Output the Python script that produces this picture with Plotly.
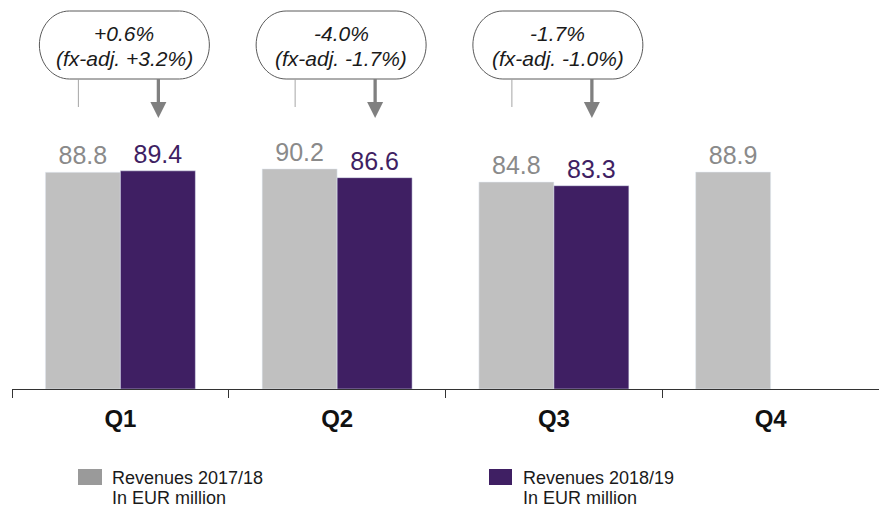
import plotly.graph_objects as go

# ---------------- data ----------------
quarters = ["Q1", "Q2", "Q3", "Q4"]
rev_2017_18 = [88.8, 90.2, 84.8, 88.9]
rev_2018_19 = [89.4, 86.6, 83.3, None]
change_pct = ["+0.6%", "-4.0%", "-1.7%"]
fx_adj_pct = ["+3.2%", "-1.7%", "-1.0%"]
legend_names = ["Revenues 2017/18", "Revenues 2018/19"]
legend_unit = "In EUR million"

# ---------------- layout constants ----------------
W, H = 879, 508
ML, MB = 12, 119
PLOT_W = W - ML
PLOT_H = H - MB
YMAX = 159.4
CAT_PX = PLOT_W / len(quarters)
Y_PX = PLOT_H / YMAX

GRAY = "#c0c0c0"
GRAY_LBL = "#8a8a8a"
GRAY_LEG = "#9a9a9a"
PURPLE = "#3f1f63"
FONT = "Arial, Liberation Sans, sans-serif"


def xd(i, dpx):
    """category index + pixel offset -> x data coordinate"""
    return i + dpx / CAT_PX


def yd(py):
    """pixel from top of figure -> y data coordinate"""
    return (PLOT_H - py) / Y_PX


def px_paper_x(px):
    return (px - ML) / PLOT_W


def px_paper_y(py):
    return (PLOT_H - py) / PLOT_H


fig = go.Figure()
fig.add_bar(
    x=quarters, y=rev_2017_18, name=legend_names[0], marker_color=GRAY,
    text=[f"{v:.1f}" for v in rev_2017_18], textposition="outside",
    textfont=dict(color=GRAY_LBL, size=25, family=FONT),
    cliponaxis=False, constraintext="none", showlegend=False,
)
fig.add_bar(
    x=quarters, y=rev_2018_19, name=legend_names[1], marker_color=PURPLE,
    text=[f"{v:.1f}" if v is not None else "" for v in rev_2018_19],
    textposition="outside",
    textfont=dict(color=PURPLE, size=25, family=FONT),
    cliponaxis=False, constraintext="none", showlegend=False,
)

shapes = []
annotations = []

# ---------------- callouts ----------------
def stadium_path(i, x0, x1, y0, y1, rx, ry):
    k = 0.5523
    pts = [
        ("M", [(x0 + rx, y0)]),
        ("L", [(x1 - rx, y0)]),
        ("C", [(x1 - rx + k * rx, y0), (x1, y0 + ry - k * ry), (x1, y0 + ry)]),
        ("L", [(x1, y1 - ry)]),
        ("C", [(x1, y1 - ry + k * ry), (x1 - rx + k * rx, y1), (x1 - rx, y1)]),
        ("L", [(x0 + rx, y1)]),
        ("C", [(x0 + rx - k * rx, y1), (x0, y1 - ry + k * ry), (x0, y1 - ry)]),
        ("L", [(x0, y0 + ry)]),
        ("C", [(x0, y0 + ry - k * ry), (x0 + rx - k * rx, y0), (x0 + rx, y0)]),
    ]
    s = ""
    for cmd, ps in pts:
        s += cmd + " ".join(f"{xd(i, px):.5f},{yd(py):.4f}" for px, py in ps) + " "
    return s + "Z"


for i, (chg, fx) in enumerate(zip(change_pct, fx_adj_pct)):
    # rounded box
    shapes.append(dict(
        type="path", xref="x", yref="y",
        path=stadium_path(i, -81, 89, 11, 79, 30, 34),
        line=dict(color="#5a5a5a", width=1), fillcolor="white", layer="above",
    ))
    # thin leader line above previous-year bar
    shapes.append(dict(
        type="line", xref="x", yref="y",
        x0=xd(i, -42), x1=xd(i, -42), y0=yd(79), y1=yd(107),
        line=dict(color="#a6a6a6", width=1),
    ))
    # arrow stem above current-year bar
    shapes.append(dict(
        type="line", xref="x", yref="y",
        x0=xd(i, 38), x1=xd(i, 38), y0=yd(79), y1=yd(103),
        line=dict(color="#808080", width=3.3),
    ))
    # arrow head
    shapes.append(dict(
        type="path", xref="x", yref="y",
        path=(f"M{xd(i, 30):.5f},{yd(102):.4f} L{xd(i, 46):.5f},{yd(102):.4f} "
              f"L{xd(i, 38):.5f},{yd(118):.4f} Z"),
        line=dict(color="#808080", width=0), fillcolor="#808080",
    ))
    for txt, py in ((chg, 33), (f"(fx-adj. {fx})", 58)):
        annotations.append(dict(
            x=quarters[i], xref="x", xshift=4, y=yd(py), yref="y",
            yanchor="middle", xanchor="center", showarrow=False,
            text=f"<i>{txt}</i>",
            font=dict(size=21, color="#1a1a1a", family=FONT),
        ))

# ---------------- legend (manual) ----------------
legend_items = [(78, 102, GRAY_LEG, 110), (489, 512, PURPLE, 521)]
for (sx0, sx1, col, tx), name in zip(legend_items, legend_names):
    shapes.append(dict(
        type="rect", xref="paper", yref="paper",
        x0=px_paper_x(sx0), x1=px_paper_x(sx1),
        y0=px_paper_y(485), y1=px_paper_y(469),
        fillcolor=col, line=dict(width=0),
    ))
    annotations.append(dict(
        x=px_paper_x(tx), y=px_paper_y(478), xref="paper", yref="paper",
        xanchor="left", yanchor="middle", showarrow=False, text=name,
        font=dict(size=18, color="#1a1a1a", family=FONT),
    ))
    annotations.append(dict(
        x=px_paper_x(tx), y=px_paper_y(498), xref="paper", yref="paper",
        xanchor="left", yanchor="middle", showarrow=False, text=legend_unit,
        font=dict(size=18, color="#1a1a1a", family=FONT),
    ))

fig.update_layout(
    width=W, height=H,
    margin=dict(l=ML, r=0, t=0, b=MB, pad=0),
    paper_bgcolor="white", plot_bgcolor="white",
    barmode="group", bargap=0.308, bargroupgap=0,
    showlegend=False,
    shapes=shapes, annotations=annotations,
    font=dict(family=FONT),
    xaxis=dict(
        type="category", categoryorder="array", categoryarray=quarters,
        range=[-0.5, len(quarters) - 0.5],
        tickson="boundaries", ticks="outside", ticklen=8, tickwidth=1,
        tickcolor="#333333", showline=True, linecolor="#333333", linewidth=1,
        showgrid=False, zeroline=False,
        tickfont=dict(size=24, color="#111111", family=FONT, weight="bold"),
        ticklabelstandoff=8,
    ),
    yaxis=dict(range=[0, YMAX], visible=False, showgrid=False, zeroline=False),
)

fig.write_html("out.html")
